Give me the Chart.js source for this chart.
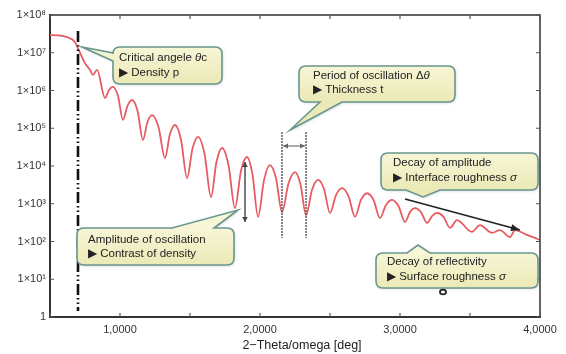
<!DOCTYPE html>
<html>
<head>
<meta charset="utf-8">
<script src="https://cdn.jsdelivr.net/npm/chart.js@4"></script>
<style>
  html, body { margin: 0; padding: 0; background: #fff; }
  #wrap { width: 566px; height: 354px; position: relative; }
</style>
</head>
<body>
<div id="wrap"><canvas id="xrrChart"></canvas></div>
<script>
// 2-theta/omega angle (deg) and reflected intensity
const angle = [0.5, 0.55, 0.621, 0.679, 0.7, 0.75, 0.786, 0.807, 0.836, 0.893,
    0.921, 0.95, 0.986, 1.021, 1.054, 1.086, 1.125, 1.164, 1.196, 1.229,
    1.275, 1.321, 1.357, 1.393, 1.436, 1.479, 1.518, 1.557, 1.604, 1.65,
    1.689, 1.729, 1.775, 1.821, 1.864, 1.907, 1.946, 1.986, 2.029, 2.071,
    2.114, 2.157, 2.204, 2.25, 2.289, 2.329, 2.371, 2.414, 2.457, 2.5,
    2.543, 2.586, 2.632, 2.679, 2.721, 2.764, 2.811, 2.857, 2.9, 2.943,
    2.989, 3.036, 3.071, 3.107, 3.15, 3.193, 3.229, 3.264, 3.311, 3.357,
    3.407, 3.514, 3.571, 3.657, 3.714, 3.786, 3.821, 3.907, 3.95, 4.0];
const intensity = [2.95e7, 2.9e7, 2.6e7, 1.9e7, 1.3e7, 5.3e6, 3.5e6, 2.6e6, 3.5e6, 6.3e5,
    1.03e6, 1.24e6, 7.1e5, 1.66e5, 4.0e5, 5.6e5, 2.9e5, 4.9e4, 1.47e5, 2.24e5,
    1.08e5, 1.63e4, 7.0e4, 1.22e5, 4.9e4, 4.8e3, 2.9e4, 5.9e4, 2.08e4, 1.5e3,
    1.28e4, 3.0e4, 1.06e4, 7.7e2, 7.4e3, 1.73e4, 6.1e3, 4.5e2, 4.3e3, 1.06e4,
    4.8e3, 6.0e2, 3.5e3, 6.9e3, 3.3e3, 5.0e2, 2.3e3, 4.3e3, 2.5e3, 5.7e2,
    1.7e3, 2.6e3, 1.6e3, 4.5e2, 1.26e3, 1.9e3, 1.26e3, 4.2e2, 9.3e2, 1.26e3,
    8.7e2, 3.3e2, 6.0e2, 7.7e2, 6.0e2, 3.1e2, 4.7e2, 5.7e2, 4.5e2, 2.3e2,
    3.7e2, 1.8e2, 2.7e2, 1.7e2, 2.0e2, 1.3e2, 2.0e2, 1.5e2, 1.3e2, 1.1e2];

const xTickValues = [1, 2, 3, 4];
const xTickLabels = ['1,0000', '2,0000', '3,0000', '4,0000'];
const yTickValues = [1, 1e1, 1e2, 1e3, 1e4, 1e5, 1e6, 1e7, 1e8];
const yTickLabels = ['1', '1×10¹', '1×10²', '1×10³', '1×10⁴', '1×10⁵', '1×10⁶', '1×10⁷', '1×10⁸'];
const xTitle = '2−Theta/omega [deg]';

const criticalAngle = 0.7;
const periodMinima = [2.157, 2.329];
const amplitudeAngle = 1.893;

const FONT = '"Liberation Sans", Arial, sans-serif';

// callout boxes (pixel layout), text parts: [text, italic]
const callouts = [
    { box: [113, 47, 222, 84], tail: { side: 'left', a: 53, b: 61, tip: [82, 47] }, tx: 119, ty: [58, 73],
      lines: [[['Critical angele ', false], ['θ', true], ['c', false]], [['▶ Density p', false]]] },
    { box: [299, 66, 455, 102], tail: { side: 'bottom', a: 320, b: 342, tip: [290, 130] }, tx: 313, ty: [76, 90],
      lines: [[['Period of oscillation Δ', false], ['θ', true]], [['▶ Thickness t', false]]] },
    { box: [77, 228, 234, 265], tail: { side: 'top', a: 172, b: 214, tip: [238, 210] }, tx: 88, ty: [240, 254],
      lines: [[['Amplitude of oscillation', false]], [['▶ Contrast of density', false]]] },
    { box: [381, 153, 538, 190], tail: { side: 'bottom', a: 406, b: 440, tip: [423, 197] }, tx: 393, ty: [163, 178],
      lines: [[['Decay of amplitude', false]], [['▶ Interface roughness ', false], ['σ', true]]] },
    { box: [376, 253, 538, 288], tail: { side: 'top', a: 407, b: 430, tip: [418, 245] }, tx: 387, ty: [262, 277],
      lines: [[['Decay of reflectivity', false]], [['▶ Surface roughness ', false], ['σ', true]]] }
];

function calloutPath(ctx, c) {
    const [x0, y0, x1, y1] = c.box;
    const r = 7, t = c.tail;
    ctx.beginPath();
    ctx.moveTo(x0 + r, y0);
    if (t.side === 'top') { ctx.lineTo(t.a, y0); ctx.lineTo(t.tip[0], t.tip[1]); ctx.lineTo(t.b, y0); }
    ctx.lineTo(x1 - r, y0);
    ctx.quadraticCurveTo(x1, y0, x1, y0 + r);
    ctx.lineTo(x1, y1 - r);
    ctx.quadraticCurveTo(x1, y1, x1 - r, y1);
    if (t.side === 'bottom') { ctx.lineTo(t.b, y1); ctx.lineTo(t.tip[0], t.tip[1]); ctx.lineTo(t.a, y1); }
    ctx.lineTo(x0 + r, y1);
    ctx.quadraticCurveTo(x0, y1, x0, y1 - r);
    if (t.side === 'left') { ctx.lineTo(x0, t.b); ctx.lineTo(t.tip[0], t.tip[1]); ctx.lineTo(x0, t.a); }
    ctx.lineTo(x0, y0 + r);
    ctx.quadraticCurveTo(x0, y0, x0 + r, y0);
    ctx.closePath();
}

function arrowHead(ctx, x1, y1, x2, y2, len, wid) {
    const a = Math.atan2(y2 - y1, x2 - x1);
    ctx.beginPath();
    ctx.moveTo(x2, y2);
    ctx.lineTo(x2 - len * Math.cos(a) + wid * Math.sin(a), y2 - len * Math.sin(a) - wid * Math.cos(a));
    ctx.lineTo(x2 - len * Math.cos(a) - wid * Math.sin(a), y2 - len * Math.sin(a) + wid * Math.cos(a));
    ctx.closePath();
    ctx.fill();
}

function arrow(ctx, x1, y1, x2, y2, color, width, len, wid, both) {
    ctx.save();
    ctx.strokeStyle = color;
    ctx.fillStyle = color;
    ctx.lineWidth = width;
    ctx.beginPath();
    ctx.moveTo(x1, y1);
    ctx.lineTo(x2, y2);
    ctx.stroke();
    arrowHead(ctx, x1, y1, x2, y2, len, wid);
    if (both) arrowHead(ctx, x2, y2, x1, y1, len, wid);
    ctx.restore();
}

const decorations = {
    id: 'decorations',
    afterDraw(chart) {
        const ctx = chart.ctx;
        const area = chart.chartArea;
        const xs = chart.scales.x, ys = chart.scales.y;

        ctx.save();
        // frame: top and right lines
        ctx.strokeStyle = '#333';
        ctx.lineWidth = 1.5;
        ctx.beginPath();
        ctx.moveTo(area.left, area.top);
        ctx.lineTo(area.right, area.top);
        ctx.lineTo(area.right, area.bottom);
        ctx.stroke();

        // inward tick marks
        ctx.lineWidth = 1.2;
        ctx.strokeStyle = '#555';
        xs.ticks.forEach(t => {
            const px = xs.getPixelForValue(t.value);
            ctx.beginPath();
            ctx.moveTo(px, area.bottom); ctx.lineTo(px, area.bottom - 4);
            ctx.moveTo(px, area.top); ctx.lineTo(px, area.top + 4);
            ctx.stroke();
        });
        yTickValues.forEach(v => {
            const py = ys.getPixelForValue(v);
            ctx.beginPath();
            ctx.moveTo(area.left, py); ctx.lineTo(area.left + 4, py);
            ctx.moveTo(area.right, py); ctx.lineTo(area.right - 4, py);
            ctx.stroke();
        });

        // critical angle dash-dot line
        const cx = xs.getPixelForValue(criticalAngle);
        ctx.strokeStyle = '#111';
        ctx.lineWidth = 2.6;
        ctx.setLineDash([11, 3, 1.5, 3, 1.5, 3]);
        ctx.beginPath();
        ctx.moveTo(cx, 31);
        ctx.lineTo(cx, 311);
        ctx.stroke();

        // period of oscillation lines
        ctx.strokeStyle = '#444';
        ctx.lineWidth = 1.3;
        ctx.setLineDash([2, 1]);
        const pxs = periodMinima.map(v => xs.getPixelForValue(v));
        pxs.forEach(px => {
            ctx.beginPath();
            ctx.moveTo(px, 132);
            ctx.lineTo(px, 238);
            ctx.stroke();
        });
        ctx.setLineDash([]);
        arrow(ctx, pxs[0] + 1, 146, pxs[1] - 1, 146, '#666', 1.1, 5, 2.5, true);

        // amplitude arrow
        const ax = xs.getPixelForValue(amplitudeAngle);
        arrow(ctx, ax, 162, ax, 222, '#444', 1.4, 5, 2.8, true);

        // decay of amplitude arrow
        arrow(ctx, 405, 199, 520, 230, '#222', 1.8, 9, 3.5, false);

        // callout boxes
        callouts.forEach(c => {
            ctx.save();
            calloutPath(ctx, c);
            const g = ctx.createLinearGradient(0, c.box[1], 0, c.box[3]);
            g.addColorStop(0, '#f7f6d6');
            g.addColorStop(1, '#ebe9b6');
            ctx.shadowColor = 'rgba(0,0,0,0.18)';
            ctx.shadowBlur = 3;
            ctx.shadowOffsetX = 1;
            ctx.shadowOffsetY = 1;
            ctx.fillStyle = g;
            ctx.fill();
            ctx.shadowColor = 'transparent';
            ctx.strokeStyle = '#6a9690';
            ctx.lineWidth = 1.6;
            ctx.stroke();
            ctx.restore();

            ctx.fillStyle = '#222';
            ctx.textBaseline = 'middle';
            ctx.textAlign = 'left';
            c.lines.forEach((parts, i) => {
                let x = c.tx;
                parts.forEach(([txt, it]) => {
                    ctx.font = (it ? 'italic ' : '') + '11.5px ' + FONT;
                    ctx.fillText(txt, x, c.ty[i]);
                    x += ctx.measureText(txt).width;
                });
            });
        });

        // small mark under the reflectivity box
        ctx.strokeStyle = '#222';
        ctx.lineWidth = 1.8;
        ctx.beginPath();
        ctx.ellipse(443, 292, 3, 2.4, 0, 0, Math.PI * 2);
        ctx.stroke();

        // x axis title
        ctx.fillStyle = '#222';
        ctx.font = '12.5px ' + FONT;
        ctx.textAlign = 'center';
        ctx.textBaseline = 'middle';
        ctx.fillText(xTitle, 302, 346);
        ctx.restore();
    }
};

const data = {
    datasets: [{
        data: angle.map((a, i) => ({ x: a, y: intensity[i] })),
        borderColor: '#e65c62',
        borderWidth: 1.8,
        pointRadius: 0,
        cubicInterpolationMode: 'monotone',
        fill: false
    }]
};

const config = {
    type: 'line',
    data: data,
    options: {
        responsive: true,
        maintainAspectRatio: false,
        animation: false,
        layout: { padding: { left: 0, right: 26, top: 15, bottom: 0 } },
        plugins: { legend: { display: false }, tooltip: { enabled: false } },
        scales: {
            x: {
                type: 'linear',
                min: 0.5,
                max: 4,
                grid: { display: false, drawTicks: false },
                border: { display: true, color: '#333', width: 2 },
                ticks: {
                    stepSize: 0.5,
                    autoSkip: false,
                    maxRotation: 0,
                    padding: 6,
                    color: '#333',
                    font: { family: FONT, size: 11 },
                    callback: v => {
                        const i = xTickValues.indexOf(v);
                        return i >= 0 ? xTickLabels[i] : '';
                    }
                },
                afterFit: s => { s.height = 37; }
            },
            y: {
                type: 'logarithmic',
                min: 1,
                max: 1e8,
                grid: { display: false, drawTicks: false },
                border: { display: true, color: '#333', width: 2 },
                afterBuildTicks: s => { s.ticks = yTickValues.map(v => ({ value: v })); },
                ticks: {
                    padding: 4,
                    color: '#333',
                    font: { family: FONT, size: 11 },
                    callback: v => {
                        const i = yTickValues.indexOf(v);
                        return i >= 0 ? yTickLabels[i] : '';
                    }
                },
                afterFit: s => { s.width = 50; }
            }
        }
    },
    plugins: [decorations]
};

const myChart = new Chart(document.getElementById('xrrChart'), config);
</script>
</body>
</html>
